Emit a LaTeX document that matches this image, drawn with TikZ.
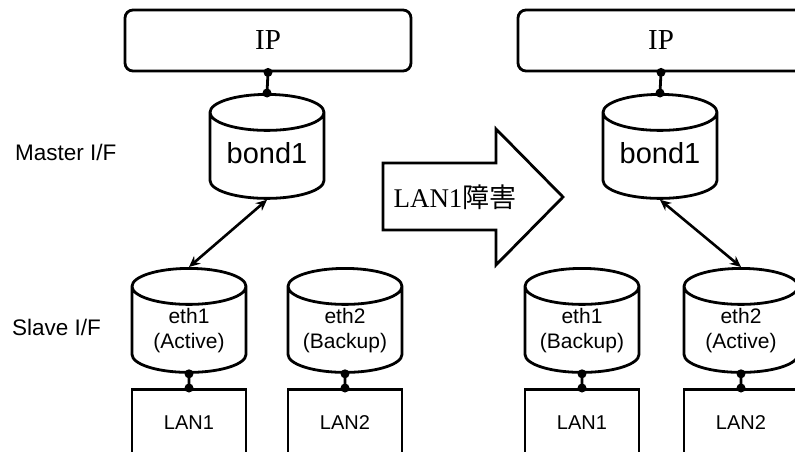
\documentclass[tikz,border=0pt]{standalone}
\usepackage{fontspec}
\setmainfont{Liberation Serif}
\setsansfont{Liberation Sans}
\newfontfamily\jpfont{Noto Sans CJK JP}
\usetikzlibrary{shapes.geometric,arrows.meta}

\tikzset{
	ipbox/.style={draw,line width=2.8pt,rounded corners=8pt,minimum width=286pt,minimum height=61pt,inner sep=0pt,font=\fontsize{29}{30}\selectfont},
	cyl/.style={draw,cylinder,shape border rotate=90,aspect=0.4,line width=2.8pt,text width=90pt,text height=18pt,text depth=5pt,minimum width=114pt,minimum height=104pt,inner sep=0pt,anchor=north},
	cyltext/.style={anchor=base,inner sep=0pt,align=center,font=\sffamily\fontsize{21}{25}\selectfont},
	bondtext/.style={anchor=base,inner sep=0pt,font=\sffamily\fontsize{29}{32}\selectfont},
	lanbox/.style={draw,line width=2.8pt,minimum width=114pt,minimum height=66pt,inner sep=0pt,anchor=north,font=\sffamily\fontsize{20}{22}\selectfont},
	iflabel/.style={anchor=west,inner sep=0pt,font=\sffamily\fontsize{22.5}{24}\selectfont},
	dot/.style={fill,circle,inner sep=0pt,minimum size=9pt},
	dbl/.style={line width=2.6pt,{Stealth[length=11pt,width=10pt]}-{Stealth[length=11pt,width=10pt]}},
}

\begin{document}
\begin{tikzpicture}[x=1pt,y=-1pt]
	\useasboundingbox (0,0) rectangle (795,452);
	\clip (0,0) rectangle (795,452);

	% left: before failure
	\node[ipbox] (ipL) at (268,40.5) {IP};
	\node[cyl] (bondL) at (267,93) {};
	\node[bondtext] (bondLt) at ([yshift=-70pt]bondL.north) {bond1};
	\node[cyl] (eth1L) at (189,267) {};
	\node[cyltext] (eth1Lt) at ([yshift=-81pt]eth1L.north) {eth1\\(Active)};
	\node[cyl] (eth2L) at (345,267) {};
	\node[cyltext] (eth2Lt) at ([yshift=-81pt]eth2L.north) {eth2\\(Backup)};
	\node[lanbox] (lan1L) at (189,388) {LAN1};
	\node[lanbox] (lan2L) at (345,388) {LAN2};

	\node[iflabel] (master) at (15,152) {Master I/F};
	\node[iflabel] (slave) at (12,327) {Slave I/F};

	% failure arrow
	\draw[line width=2.8pt] (383,163) -- (496,163) -- (496,129) -- (563,197) -- (496,265) -- (496,230) -- (383,230) -- cycle;
	\node[font=\fontsize{27}{28}\selectfont] (fail) at (455,197) {LAN1{\jpfont 障害}};

	% right: after failure
	\node[ipbox] (ipR) at (661,40.5) {IP};
	\node[cyl] (bondR) at (660,93) {};
	\node[bondtext] (bondRt) at ([yshift=-70pt]bondR.north) {bond1};
	\node[cyl] (eth1R) at (582,267) {};
	\node[cyltext] (eth1Rt) at ([yshift=-81pt]eth1R.north) {eth1\\(Backup)};
	\node[cyl] (eth2R) at (741,267) {};
	\node[cyltext] (eth2Rt) at ([yshift=-81pt]eth2R.north) {eth2\\(Active)};
	\node[lanbox] (lan1R) at (582,388) {LAN1};
	\node[lanbox] (lan2R) at (741,388) {LAN2};

	% links
	\foreach \a/\b in {ipL/bondL,ipR/bondR,eth1L/lan1L,eth2L/lan2L,eth1R/lan1R,eth2R/lan2R} {
		\draw[line width=2.8pt] (\a.south) -- (\b.north);
		\node[dot] at (\a.south) {};
		\node[dot] at (\b.north) {};
	}
	\draw[dbl] (bondL.south) -- (eth1L.north);
	\draw[dbl] (bondR.south) -- (eth2R.north);
\end{tikzpicture}
\end{document}
